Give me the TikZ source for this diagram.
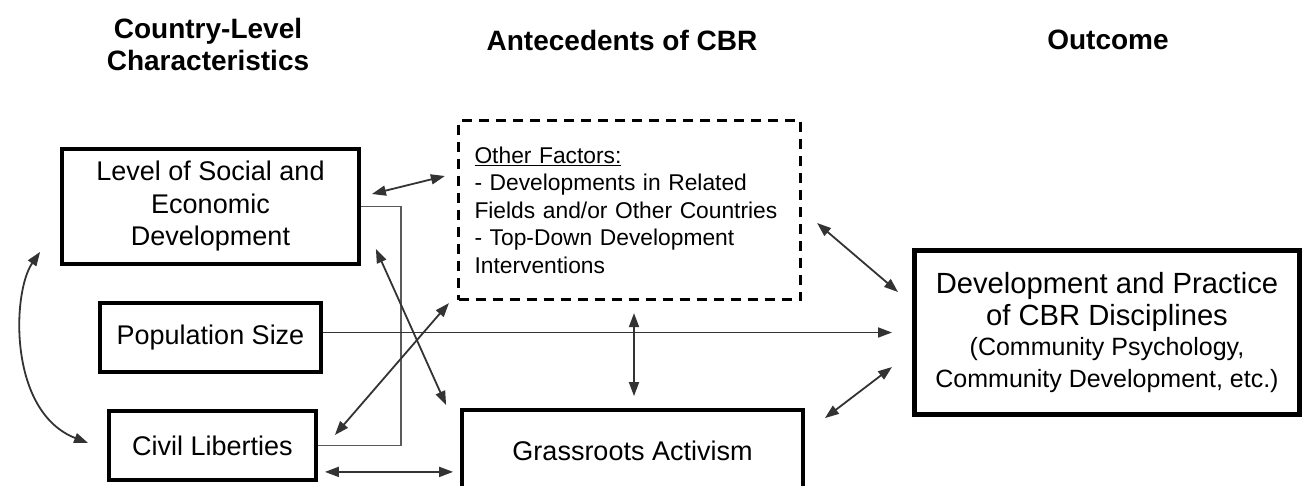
\documentclass[tikz,border=0pt]{standalone}
\usepackage{fontspec}
\setmainfont{Liberation Sans}
\usepackage{tikz}
\usetikzlibrary{arrows.meta}
\definecolor{linkgray}{HTML}{333333}
\definecolor{bracketgray}{HTML}{5A5A5A}

\begin{document}
\begin{tikzpicture}[x=1pt, y=-1pt,
  box/.style={draw, line width=3.8pt, align=center, inner sep=0pt},
  hdr/.style={align=center, font=\fontsize{28}{32}\selectfont\bfseries},
  link/.style={draw=linkgray, line width=1.8pt, {Triangle[length=14pt,width=10pt]}-{Triangle[length=14pt,width=10pt]}},
  arr/.style={draw=linkgray, line width=1.8pt, -{Triangle[length=14pt,width=10pt]}}]
\useasboundingbox (0, 0) rectangle (1305, 485);
\node [hdr] (hdrA) at (208, 44) {Country-Level\\Characteristics};
\node [hdr] (hdrB) at (622, 40) {Antecedents of CBR};
\node [hdr] (hdrC) at (1108, 40) {Outcome};
\node [box, minimum width=297, minimum height=115, font=\fontsize{27}{32.5}\selectfont] (lvl) at (210.5, 206.5) {Level of Social and\\Economic\\Development};
\node [box, minimum width=221, minimum height=69, font=\fontsize{27}{32.5}\selectfont] (pop) at (210.5, 337.5) {Population Size};
\node [box, minimum width=207, minimum height=69, font=\fontsize{27}{32.5}\selectfont] (civ) at (212.5, 445.5) {Civil Liberties};
\node [box, dashed, dash pattern=on 10pt off 7pt, line width=3.2pt, minimum width=342, minimum height=179, align=left, text width=310, font=\fontsize{22.8}{27.5}\selectfont] (oth) at (629.5, 210) {\underline{Other Factors:}\\- Developments in Related\\Fields and/or Other Countries\\- Top-Down Development\\Interventions};
\node [box, minimum width=341, minimum height=82, text depth=0pt, font=\fontsize{27}{32.5}\selectfont] (grs) at (632.5, 451) {Grassroots Activism};
\node [box, line width=5pt, minimum width=385, minimum height=164, font=\fontsize{29.2}{32}\selectfont] (out) at (1107, 332.5) {Development and Practice\\of CBR Disciplines\\[-2pt]{\fontsize{25}{32}\selectfont (Community Psychology,}\\{\fontsize{25}{32}\selectfont Community Development, etc.)}};
% bracket from level to civil liberties
\draw [bracketgray, line width=1.6pt] (lvl.east) -- ++(40, 0) |- (civ.east);
\draw [link] ([shift={(11,-12.5)}]lvl.east) -- ([shift={(-12,-34)}]oth.west);
\draw [link] ([shift={(15,-17)}]lvl.south east) -- ([shift={(-14,-3)}]grs.north west);
\draw [link] ([shift={(17,-10.5)}]civ.east) -- ([shift={(-8,2)}]oth.south west);
\draw [link] ([shift={(-20,-14)}]lvl.south west) .. controls (12, 292) and (8, 412) .. ([shift={(-19,-2.5)}]civ.west); %curved
\draw [link] ([shift={(7,-10)}]civ.south east) -- ([shift={(-7,-10)}]grs.west |- civ.south);
\draw [link] ([shift={(4.5,12)}]oth.south) -- ([shift={(1.5,-12)}]grs.north);
\draw [arr] (pop.east |- out.west) -- ([shift={(-20,0)}]out.west);
\draw [link] ([shift={(15,13)}]oth.east) -- ([shift={(-14,-40.5)}]out.west);
\draw [link] ([shift={(20,10)}]grs.north east) -- ([shift={(-20,34.5)}]out.west);
\end{tikzpicture}
\end{document}
